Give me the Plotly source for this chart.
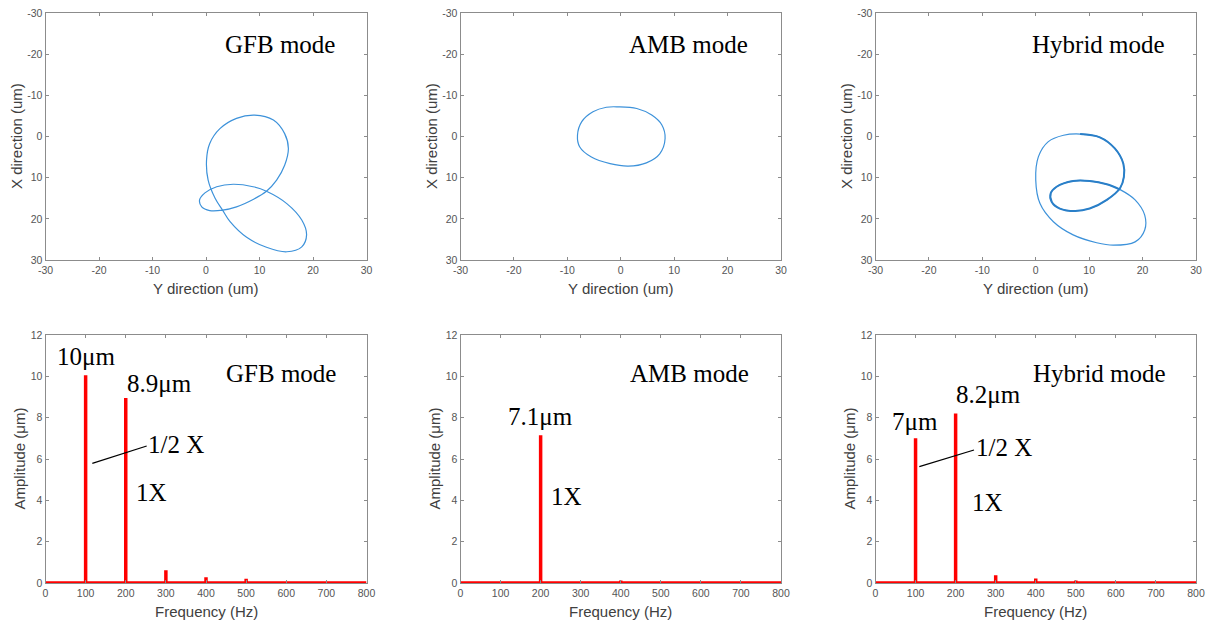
import plotly.graph_objects as go

W, H = 1207, 623

# ---------------- data ----------------
# Orbit traces (Y direction, X direction) in um
gfb_orbit_y = [9.1, 12.6, 14.7, 15.4, 14.7, 13.2, 11.3, 8.8, 5.7, 3.1, 0.7, -0.8, -1.2, -0.2, 2.0, 5.1,
               8.8, 11.3, 15.1, 17.9, 18.8, 17.9, 15.1, 11.3, 7.6, 4.5, 3.1, 1.7, 0.4, 0.1, 0.7, 2.6, 5.7]
gfb_orbit_x = [-5.2, -4.0, -0.7, 2.9, 7.0, 10.6, 13.3, 15.3, 17.1, 17.9, 18.0, 17.1, 15.4, 13.7, 12.2, 11.6,
               12.2, 13.3, 16.3, 20.3, 23.9, 26.8, 28.0, 26.9, 24.5, 20.7, 17.9, 15.0, 10.6, 5.7, 1.7, -1.9, -4.4]

amb_orbit_y = [-0.5, 3.0, 5.8, 7.7, 8.3, 7.3, 4.8, 1.4, -2.0, -5.5, -7.7, -8.1, -7.3, -5.2, -2.7]
amb_orbit_x = [-7.2, -6.8, -5.2, -2.8, 0.5, 4.2, 6.4, 7.2, 6.6, 5.0, 2.5, -0.3, -3.6, -6.0, -7.1]

hyb_orbit_y = [8.3, 12.0, 14.8, 16.4, 16.5, 15.8, 13.3, 10.1, 7.4, 4.5, 3.0, 2.8, 3.9, 7.0, 10.1, 13.3,
               15.8, 18.6, 20.4, 20.4, 18.6, 14.5, 11.4, 7.0, 3.3, 0.8, 0.0, 0.5, 2.3, 5.2]
hyb_orbit_x = [-0.6, 0.2, 2.9, 6.6, 9.8, 12.5, 15.4, 17.5, 18.1, 17.5, 15.9, 13.8, 12.2, 10.8, 10.8, 11.6,
               12.9, 15.4, 19.1, 22.7, 25.6, 26.4, 25.8, 23.9, 20.7, 16.3, 10.6, 4.9, 1.3, -0.3]
hyb_thick_count = 17  # first points of the hybrid orbit are traced repeatedly (thicker)

# Spectra: peak frequencies (Hz) and amplitudes (um)
gfb_freq = [100, 200, 300, 400, 500]
gfb_amp = [10.05, 8.95, 0.62, 0.28, 0.2]
amb_freq = [200, 400]
amb_amp = [7.15, 0.12]
hyb_freq = [100, 200, 300, 400, 500]
hyb_amp = [7.0, 8.2, 0.38, 0.22, 0.12]
freq_max = 800

orbit_ticks = [-30, -20, -10, 0, 10, 20, 30]
orbit_ticktext = ["-30", "-20", "-10", "0", "10", "20", "30"]
freq_ticks = [0, 100, 200, 300, 400, 500, 600, 700, 800]
amp_ticks = [0, 2, 4, 6, 8, 10, 12]

mode_names = ["GFB mode", "AMB mode", "Hybrid mode"]

# ---------------- layout helpers ----------------
def px_x(p):
    return p / W

def px_y(p):
    return 1 - p / H

col_px = [(45.5, 366.5), (460.5, 781.0), (875.5, 1196.0)]
row_px = [(13, 260), (335, 583)]

fig = go.Figure()

blue = "#3d92da"
red = "#ff0000"

def closed(a):
    return list(a) + [a[0]]

orbits = [(gfb_orbit_y, gfb_orbit_x), (amb_orbit_y, amb_orbit_x), (hyb_orbit_y, hyb_orbit_x)]
for i, (oy, ox) in enumerate(orbits):
    xa = "x%d" % (i + 1) if i > 0 else "x"
    ya = "y%d" % (i + 1) if i > 0 else "y"
    fig.add_trace(go.Scatter(x=closed(oy), y=closed(ox), mode="lines",
                             line=dict(color=blue, width=1.2, shape="spline", smoothing=1.0),
                             xaxis=xa, yaxis=ya, showlegend=False, hoverinfo="skip"))

# thicker overlapping portion of the hybrid orbit
fig.add_trace(go.Scatter(x=hyb_orbit_y[:hyb_thick_count], y=hyb_orbit_x[:hyb_thick_count], mode="lines",
                         line=dict(color="#2a7fc8", width=2.0, shape="spline", smoothing=1.0),
                         xaxis="x3", yaxis="y3", showlegend=False, hoverinfo="skip"))

def spectrum_line(freqs, amps):
    xs, ys = [0], [0]
    for f, a in zip(freqs, amps):
        xs += [f, f, f]
        ys += [0, a, 0]
    xs.append(freq_max)
    ys.append(0)
    return xs, ys

spectra = [(gfb_freq, gfb_amp), (amb_freq, amb_amp), (hyb_freq, hyb_amp)]
for i, (fq, am) in enumerate(spectra):
    xs, ys = spectrum_line(fq, am)
    fig.add_trace(go.Scatter(x=xs, y=ys, mode="lines",
                             line=dict(color=red, width=3.5),
                             xaxis="x%d" % (i + 4), yaxis="y%d" % (i + 4),
                             showlegend=False, hoverinfo="skip"))

axis_common = dict(
    showline=True, mirror="ticks", linecolor="#8c8c8c", linewidth=1,
    ticks="inside", ticklen=3, tickcolor="#8c8c8c", tickwidth=1,
    showgrid=False, zeroline=False, automargin=False,
    tickfont=dict(family="Liberation Sans, Arial", size=10.5, color="#555555"),
)

layout = dict(width=W, height=H, autosize=False,
              margin=dict(l=0, r=0, t=0, b=0),
              paper_bgcolor="white", plot_bgcolor="white")

for i in range(3):
    xd = [px_x(col_px[i][0]), px_x(col_px[i][1])]
    yd_top = [px_y(row_px[0][1]), px_y(row_px[0][0])]
    yd_bot = [px_y(row_px[1][1]), px_y(row_px[1][0])]
    n = i + 1
    xk = "xaxis" if n == 1 else "xaxis%d" % n
    yk = "yaxis" if n == 1 else "yaxis%d" % n
    layout[xk] = dict(axis_common, domain=xd, range=[-30, 30], tickvals=orbit_ticks, ticktext=orbit_ticktext,
                      anchor="y" if n == 1 else "y%d" % n)
    layout[yk] = dict(axis_common, domain=yd_top, range=[30, -30], tickvals=orbit_ticks, ticktext=orbit_ticktext,
                      anchor="x" if n == 1 else "x%d" % n)
    m = i + 4
    layout["xaxis%d" % m] = dict(axis_common, domain=xd, range=[0, freq_max], tickvals=freq_ticks,
                                 anchor="y%d" % m)
    layout["yaxis%d" % m] = dict(axis_common, domain=yd_bot, range=[0, 12], tickvals=amp_ticks,
                                 anchor="x%d" % m)

fig.update_layout(**layout)

# axis titles (as text annotations for exact placement)
title_font = dict(family="Liberation Sans, Arial", size=15, color="#404040")
for i in range(3):
    left, right = col_px[i]
    cx = (left + right) / 2
    fig.add_annotation(text="Y direction (um)", x=px_x(cx), y=px_y(288), xref="paper", yref="paper",
                       showarrow=False, font=title_font, xanchor="center", yanchor="middle")
    fig.add_annotation(text="Frequency (Hz)", x=px_x(cx), y=px_y(611.5), xref="paper", yref="paper",
                       showarrow=False, font=title_font, xanchor="center", yanchor="middle")
    fig.add_annotation(text="X direction (um)", x=px_x(left - 29), y=px_y((row_px[0][0] + row_px[0][1]) / 2),
                       xref="paper", yref="paper", textangle=-90,
                       showarrow=False, font=title_font, xanchor="center", yanchor="middle")
    fig.add_annotation(text="Amplitude (μm)", x=px_x(left - 27), y=px_y((row_px[1][0] + row_px[1][1]) / 2),
                       xref="paper", yref="paper", textangle=-90,
                       showarrow=False, font=title_font, xanchor="center", yanchor="middle")

serif = dict(family="Liberation Serif, Times New Roman", size=25, color="black")

def ann(text, cx, cy):
    fig.add_annotation(text=text, x=px_x(cx), y=px_y(cy), xref="paper", yref="paper",
                       showarrow=False, font=serif, xanchor="center", yanchor="middle")

# mode titles
for cx, name in zip([279.5, 688, 1098], mode_names):
    ann(name, cx, 44)
for cx, name in zip([281, 690, 1099], mode_names):
    ann(name, cx, 373)

# GFB spectrum labels
ann("10μm", 86, 356)
ann("8.9μm", 159, 383)
ann("1/2 X", 175.5, 444)
ann("1X", 151.7, 492)
# AMB spectrum labels
ann("7.1μm", 540.7, 416)
ann("1X", 566, 497)
# Hybrid spectrum labels
ann("8.2μm", 988, 395)
ann("7μm", 915.5, 421)
ann("1/2 X", 1003.8, 447)
ann("1X", 987, 502)

# leader lines
for (x0, y0, x1, y1) in [(92.3, 463.3, 146.7, 446.0), (919.3, 466.7, 974.0, 450.0)]:
    fig.add_shape(type="line", xref="paper", yref="paper",
                  x0=px_x(x0), y0=px_y(y0), x1=px_x(x1), y1=px_y(y1),
                  line=dict(color="black", width=1.3))

fig.write_html("out.html")
